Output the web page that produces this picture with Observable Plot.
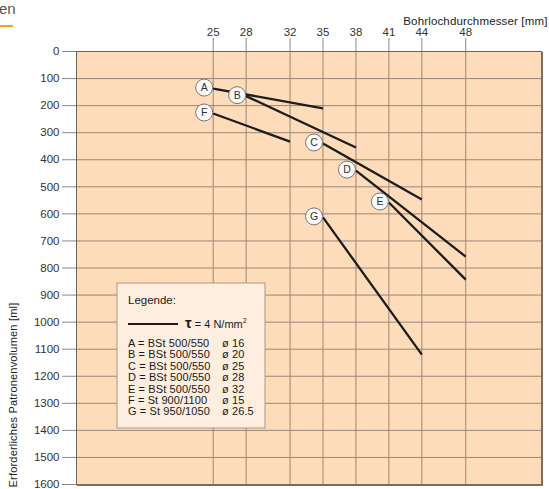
<!DOCTYPE html>
<html>
<head>
<meta charset="utf-8">
<script src="https://cdn.jsdelivr.net/npm/d3@7"></script>
<script src="https://cdn.jsdelivr.net/npm/@observablehq/plot@0.6"></script>
<style>
  html, body { margin: 0; padding: 0; background: #fff; }
  #wrap { position: relative; width: 549px; height: 489px; overflow: hidden; }
  #head { position: absolute; left: -1px; top: 0px; font: 15px "Liberation Sans", Arial, sans-serif; color: #555; }
  #headline { position: absolute; left: 0; top: 25px; width: 13px; height: 2px; background: #f2a31c; }
  #chart { position: absolute; left: 0; top: 0; }
</style>
</head>
<body>
<div id="wrap">
  <div id="chart"></div>
  <div id="head">en</div>
  <div id="headline"></div>
</div>
<script>
// ---- data ----
const series   = ["A", "B", "C", "D", "E", "F", "G"];
const startDia = [25, 28, 35, 38, 41, 25, 35];      // mm
const startVol = [137, 165, 340, 440, 558, 229, 613]; // ml
const endDia   = [35, 38, 44, 48, 48, 32, 44];
const endVol   = [210, 355, 547, 758, 843, 333, 1120];

const xTicks = [25, 28, 32, 35, 38, 41, 44, 48];
const yTicks = [0, 100, 200, 300, 400, 500, 600, 700, 800, 900, 1000, 1100, 1200, 1300, 1400, 1500, 1600];

const xTitle = "Bohrlochdurchmesser [mm]";
const yTitle = "Erforderliches Patronenvolumen [ml]";

const legendTitle = "Legende:";
const legendLabels = [
  ["A = BSt 500/550", "ø 16"],
  ["B = BSt 500/550", "ø 20"],
  ["C = BSt 500/550", "ø 25"],
  ["D = BSt 500/550", "ø 28"],
  ["E = BSt 500/550", "ø 32"],
  ["F = St 900/1100", "ø 15"],
  ["G = St 950/1050", "ø 26.5"]
];

const lines = series.map((s, i) => ({name: s, d1: startDia[i], v1: startVol[i], d2: endDia[i], v2: endVol[i]}));

const bg = "#fedcba";
const gridColor = "#9a8676";
const font = "'Liberation Sans', Arial, Helvetica, sans-serif";

const chart = Plot.plot({
  width: 549,
  height: 489,
  marginLeft: 76,
  marginRight: 8,
  marginTop: 51,
  marginBottom: 5,
  x: {domain: [12.55, 54.9], axis: null},
  y: {domain: [0, 1600], reverse: true, axis: null},
  style: {fontFamily: font, fontSize: "11px", color: "#333", background: "transparent"},
  marks: [
    Plot.frame({fill: bg, stroke: null}),
    Plot.gridX(xTicks, {stroke: gridColor, strokeOpacity: 1, strokeWidth: 1}),
    Plot.gridY(yTicks, {stroke: gridColor, strokeOpacity: 1, strokeWidth: 1}),
    Plot.axisX(xTicks, {anchor: "top", tickSize: 14, tickPadding: 2, label: null, stroke: "#8a8a8a", fill: "#333", fontSize: 11.5, tickFormat: d => String(d)}),
    Plot.axisY(yTicks, {anchor: "left", tickSize: 14, tickPadding: 3, label: null, stroke: "#8a8a8a", fill: "#333", fontSize: 11.5, tickFormat: d => String(d)}),
    Plot.frame({stroke: "#6e6258", strokeWidth: 1}),
    Plot.link(lines, {x1: "d1", y1: "v1", x2: "d2", y2: "v2", stroke: "#1c1c1c", strokeWidth: 2.3}),
    Plot.dot(lines, {x: "d1", y: "v1", r: 8.5, fill: "#fbfbfb", stroke: "#777", strokeWidth: 1, dx: -9, dy: -1}),
    Plot.text(lines, {x: "d1", y: "v1", text: "name", dx: -9, dy: -1, fontSize: 10.5, fill: "#333"}),
    Plot.text([xTitle], {frameAnchor: "top-right", textAnchor: "end", dx: 6, dy: -35, fontSize: 11.5, fill: "#222"}),
    Plot.text([yTitle], {frameAnchor: "bottom-left", textAnchor: "start", rotate: -90, dx: -60, dy: 3, fontSize: 11, fill: "#222"})
  ]
});

document.getElementById("chart").appendChild(chart);

// spread the titles slightly like the reference typesetting
d3.select(chart).selectAll("text").filter(function() { return this.textContent === xTitle; }).attr("letter-spacing", 0.15);
d3.select(chart).selectAll("text").filter(function() { return this.textContent === yTitle; }).attr("letter-spacing", 0.2);

// frame shadow on right and bottom edges + legend box, positioned from the plot's scales
const svg = d3.select(chart);
const xr = chart.scale("x").range, yr = chart.scale("y").range;
const x0 = Math.min(...xr), x1 = Math.max(...xr);
const yTop = Math.min(...yr), yBot = Math.max(...yr);
const shadow = svg.append("g").attr("stroke", "#7a6d63").attr("stroke-width", 2);
shadow.append("line").attr("x1", x1 + 1).attr("x2", x1 + 1).attr("y1", yTop + 1).attr("y2", yBot + 1);
shadow.append("line").attr("x1", x0 + 1).attr("x2", x1 + 2).attr("y1", yBot + 1).attr("y2", yBot + 1);

const lg = svg.append("g").attr("font-family", font).attr("fill", "#1a1a1a").attr("text-anchor", "start");
const bx = x0 + 41, by = yTop + 232, bw = 148, bh = 145;
lg.append("rect").attr("x", bx).attr("y", by).attr("width", bw).attr("height", bh)
  .attr("fill", "#fdeee0").attr("stroke", "#a89888").attr("stroke-width", 1);
lg.append("text").attr("x", bx + 11).attr("y", by + 21).attr("font-size", 11.5).text(legendTitle);
lg.append("line").attr("x1", bx + 11).attr("x2", bx + 61).attr("y1", by + 41).attr("y2", by + 41)
  .attr("stroke", "#1c1c1c").attr("stroke-width", 2);
const tau = lg.append("text").attr("x", bx + 68).attr("y", by + 45).attr("font-size", 11);
tau.append("tspan").attr("font-size", 15).attr("font-weight", "bold").text("τ");
tau.append("tspan").text(" = 4 N/mm");
tau.append("tspan").attr("font-size", 7).attr("dy", -5).text("2");
legendLabels.forEach(([a, b], i) => {
  const y = by + 64 + i * 11.4;
  lg.append("text").attr("x", bx + 11).attr("y", y).attr("font-size", 11).attr("letter-spacing", 0.1).text(a);
  lg.append("text").attr("x", bx + 105).attr("y", y).attr("font-size", 11).attr("letter-spacing", 0.1).text(b);
});
</script>
</body>
</html>
